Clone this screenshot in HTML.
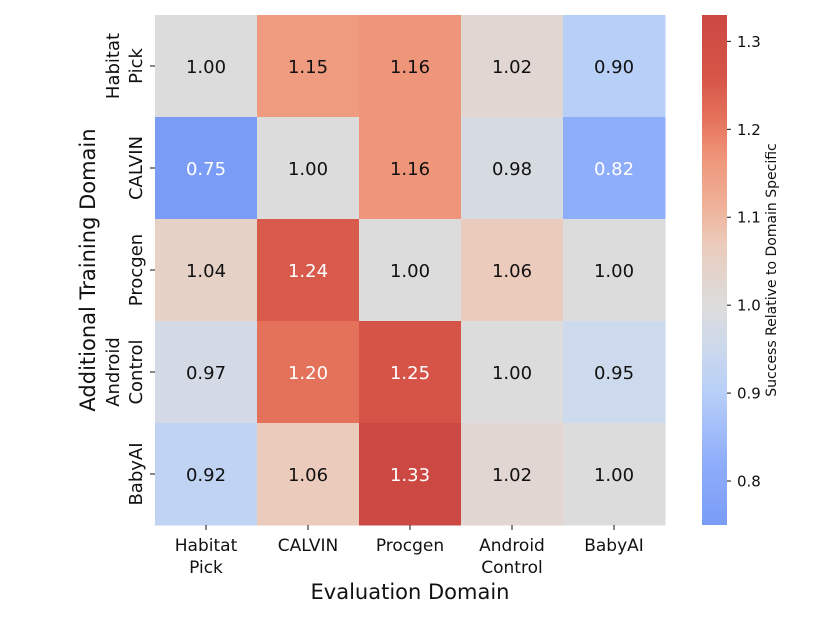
<!DOCTYPE html>
<html><head><meta charset="utf-8"><style>
body{margin:0;background:#fff;}
svg text{font-family:"DejaVu Sans","Liberation Sans",sans-serif;}
</style></head><body>
<svg id="chart" width="830" height="623" xmlns="http://www.w3.org/2000/svg">
<defs><linearGradient id="cbgrad" x1="0" y1="1" x2="0" y2="0">
<stop offset="0" stop-color="#7a9cf6"/><stop offset="0.12" stop-color="#8eadfa"/><stop offset="0.26" stop-color="#b8cff8"/><stop offset="0.35" stop-color="#cdd9ec"/><stop offset="0.43" stop-color="#dcdcdc"/><stop offset="0.55" stop-color="#ebcbbc"/><stop offset="0.62" stop-color="#efb39a"/><stop offset="0.72" stop-color="#ef967a"/><stop offset="0.8" stop-color="#e4715a"/><stop offset="0.88" stop-color="#d55447"/><stop offset="1" stop-color="#cc4842"/>
</linearGradient></defs>
<g id="cells"></g>
<rect x="702" y="15" width="25" height="510" fill="url(#cbgrad)"/>
<g id="cbticks"></g>
<text transform="translate(776,270) rotate(-90)" text-anchor="middle" font-size="14" fill="#111">Success Relative to Domain Specific</text>
<text transform="translate(95,270) rotate(-90)" text-anchor="middle" font-size="21" fill="#111">Additional Training Domain</text>
<text x="410" y="599" text-anchor="middle" font-size="21" fill="#111">Evaluation Domain</text>
</svg>
<script>
const xCats=[["Habitat","Pick"],["CALVIN"],["Procgen"],["Android","Control"],["BabyAI"]];
const yCats=[["Habitat","Pick"],["CALVIN"],["Procgen"],["Android","Control"],["BabyAI"]];
const values=[
[1.00,1.15,1.16,1.02,0.90],
[0.75,1.00,1.16,0.98,0.82],
[1.04,1.24,1.00,1.06,1.00],
[0.97,1.20,1.25,1.00,0.95],
[0.92,1.06,1.33,1.02,1.00]];
const cbTicks=[0.8,0.9,1.0,1.1,1.2,1.3];
const vmin=0.75,vmax=1.33;
const X0=155,Y0=15,CW=102,CH=102;
const stops=[[0.75,[122,156,246]],[0.82,[142,173,250]],[0.90,[184,207,248]],[0.95,[205,217,236]],[1.00,[220,220,220]],[1.06,[235,203,188]],[1.10,[239,179,154]],[1.16,[239,150,122]],[1.20,[228,113,90]],[1.25,[213,84,71]],[1.33,[204,72,66]]];
function color(v){
 if(v<=stops[0][0])return stops[0][1];
 for(let i=1;i<stops.length;i++){if(v<=stops[i][0]){const a=stops[i-1],b=stops[i],t=(v-a[0])/(b[0]-a[0]);return a[1].map((c,k)=>Math.round(c+(b[1][k]-c)*t));}}
 return stops[stops.length-1][1];
}
const NS="http://www.w3.org/2000/svg";
const svg=document.getElementById('chart');
const g=document.getElementById('cells');
function mk(t,a,p){const e=document.createElementNS(NS,t);for(const k in a)e.setAttribute(k,a[k]);(p||svg).appendChild(e);return e;}
function xs(i){return X0+i*CW;}
function ys(j){return Y0+j*CH;}
function cby(v){return 525-(v-vmin)/(vmax-vmin)*510;}
values.forEach((row,j)=>row.forEach((v,i)=>{
 const c=color(v);
 const r=mk('rect',{x:xs(i),y:ys(j),width:CW+0.5,height:CH+0.5,fill:`rgb(${c})`},g);
 
 
 const t=mk('text',{x:xs(i)+CW/2,y:ys(j)+CH/2+7,'text-anchor':'middle','font-size':'18',fill:(v>=1.18||v<=0.85)?'#fff':'#111'},g);
 t.textContent=v.toFixed(2);
 
 
}));
xCats.forEach((lab,i)=>{
 const cx=xs(i)+CW/2;
 mk('line',{x1:cx,x2:cx,y1:525,y2:530,stroke:'#111'});
 lab.forEach((s,k)=>{const t=mk('text',{x:cx,y:551+k*22,'text-anchor':'middle','font-size':'17',fill:'#111'});t.textContent=s;
 
 });
});
yCats.forEach((lab,j)=>{
 const cy=ys(j)+CH/2;
 mk('line',{x1:150,x2:155,y1:cy,y2:cy,stroke:'#111'});
 const n=lab.length;
 lab.forEach((s,k)=>{const x=142-(n-1-k)*23;const t=mk('text',{transform:`translate(${x},${cy}) rotate(-90)`,'text-anchor':'middle','font-size':'18',fill:'#111'});t.textContent=s;
 
 });
});
const cbt=document.getElementById('cbticks');
cbTicks.forEach(v=>{
 const y=cby(v);
 mk('line',{x1:727,x2:731,y1:y,y2:y,stroke:'#111'},cbt);
 const t=mk('text',{x:737,y:y+5.5,'font-size':'15',fill:'#111'},cbt);
 t.textContent=v.toFixed(1);
 
 
});
</script>
</body></html>
